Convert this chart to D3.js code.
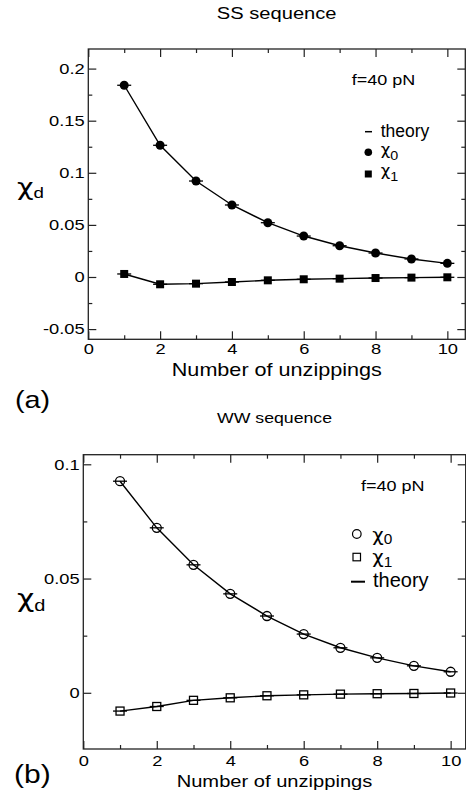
<!DOCTYPE html>
<html>
<head>
<meta charset="utf-8">
<script src="https://cdn.jsdelivr.net/npm/d3@7"></script>
<style>
  body { margin: 0; background: #fff; }
  svg { display: block; font-family: "Liberation Sans", Arial, Helvetica, sans-serif; }
</style>
</head>
<body>
<svg id="chart" width="466" height="795"></svg>
<script>
// values
const unzippings = [1, 2, 3, 4, 5, 6, 7, 8, 9, 10];
const ssChi0 = [0.184, 0.1264, 0.0921, 0.0691, 0.0521, 0.0393, 0.0300, 0.0230, 0.0173, 0.0131];
const ssChi1 = [0.0029, -0.0070, -0.0064, -0.0048, -0.0032, -0.0022, -0.0016, -0.0010, -0.0006, -0.0003];
const wwChi0 = [0.0926, 0.0722, 0.0560, 0.0433, 0.0336, 0.0257, 0.0197, 0.0153, 0.0118, 0.0092];
const wwChi1 = [-0.0080, -0.0060, -0.0033, -0.0022, -0.0013, -0.0009, -0.0006, -0.0004, -0.0003, -0.0001];

const xTicks = [0, 2, 4, 6, 8, 10];
const xMinor = [1, 3, 5, 7, 9];
const ssYTicks = [-0.05, 0, 0.05, 0.1, 0.15, 0.2];
const ssYLabels = ["-0.05", "0", "0.05", "0.1", "0.15", "0.2"];
const ssYMinor = [-0.025, 0.025, 0.075, 0.125, 0.175];
const wwYTicks = [0, 0.05, 0.1];
const wwYLabels = ["0", "0.05", "0.1"];
const wwYMinor = [0.025, 0.075];

const svg = d3.select("#chart");
svg.append("rect").attr("width", 466).attr("height", 795).attr("fill", "#fff");

// stretched text, the original type is wider than Arial
function label(g, x, y, s, size, sx, anchor) {
    return g.append("text")
        .attr("transform", `translate(${x},${y}) scale(${sx},1)`)
        .attr("font-size", size)
        .attr("text-anchor", anchor || "start")
        .attr("fill", "#000")
        .text(s);
}

function chiLabel(g, x, y, sub, size, subSize, sx, dy) {
    const t = g.append("text")
        .attr("transform", `translate(${x},${y}) scale(${sx},1)`)
        .attr("font-size", size)
        .attr("fill", "#000");
    t.append("tspan").attr("font-family", "DejaVu Sans, sans-serif").text("χ");
    t.append("tspan").attr("font-size", subSize).attr("dy", dy).text(sub);
    return t;
}

function drawPanel(p) {
    const x = d3.scaleLinear().domain([0, p.xMax]).range([p.left, p.right]);
    const y = d3.scaleLinear().domain(p.yDomain).range([p.bottom, p.top]);
    const g = svg.append("g");

    const tickFont = 15, tickSx = 1.22;

    // major and minor ticks on all four sides, pointing inward
    const axes = [
        [d3.axisBottom(x).tickValues(xTicks).tickFormat(d => d), `translate(0,${p.bottom})`, true, -8],
        [d3.axisBottom(x).tickValues(xMinor).tickFormat(""), `translate(0,${p.bottom})`, false, -4],
        [d3.axisTop(x).tickValues(xTicks).tickFormat(""), `translate(0,${p.top})`, false, -8],
        [d3.axisTop(x).tickValues(xMinor).tickFormat(""), `translate(0,${p.top})`, false, -4],
        [d3.axisLeft(y).tickValues(p.yTicks).tickFormat((d, i) => p.yLabels[i]), `translate(${p.left},0)`, true, -8],
        [d3.axisLeft(y).tickValues(p.yMinor).tickFormat(""), `translate(${p.left},0)`, false, -4],
        [d3.axisRight(y).tickValues(p.yTicks).tickFormat(""), `translate(${p.right},0)`, false, -8],
        [d3.axisRight(y).tickValues(p.yMinor).tickFormat(""), `translate(${p.right},0)`, false, -4]
    ];
    axes.forEach(([ax, tr, labelled, size], i) => {
        ax.tickSizeInner(size).tickSizeOuter(0).tickPadding(i === 0 ? p.xPad : 3);
        const a = g.append("g").attr("transform", tr).call(ax);
        a.select(".domain").remove();
        a.selectAll("line").attr("stroke", "#222").attr("stroke-width", 1.2);
        a.selectAll("text")
            .attr("font-size", tickFont)
            .attr("font-family", "Liberation Sans, Arial, sans-serif")
            .attr("fill", "#000");
        if (labelled) a.selectAll("text").attr("transform", `scale(${tickSx},1)`);
    });

    g.append("rect")
        .attr("x", p.left).attr("y", p.top)
        .attr("width", p.right - p.left).attr("height", p.bottom - p.top)
        .attr("fill", "none").attr("stroke", "#222").attr("stroke-width", 1.3);

    const line = d3.line().x((d, i) => x(unzippings[i])).y(d => y(d));

    p.series.forEach(s => {
        g.append("path").datum(s.values)
            .attr("d", line)
            .attr("fill", "none").attr("stroke", "#000").attr("stroke-width", 1.4);

        // theory dashes
        g.append("g").selectAll("line").data(s.values).join("line")
            .attr("x1", (d, i) => x(unzippings[i]) - 7)
            .attr("x2", (d, i) => x(unzippings[i]) + 7)
            .attr("y1", d => y(d)).attr("y2", d => y(d))
            .attr("stroke", "#000").attr("stroke-width", 1.3);

        const m = g.append("g").selectAll(s.shape === "circle" ? "circle" : "rect")
            .data(s.values).join(s.shape === "circle" ? "circle" : "rect");
        if (s.shape === "circle") {
            m.attr("cx", (d, i) => x(unzippings[i])).attr("cy", d => y(d)).attr("r", 4.5);
        } else {
            m.attr("x", (d, i) => x(unzippings[i]) - 4).attr("y", d => y(d) - 4)
                .attr("width", 8).attr("height", 8);
        }
        if (p.filled) m.attr("fill", "#000");
        else m.attr("fill", "none").attr("stroke", "#000").attr("stroke-width", 1.3);
    });
    return g;
}

// panel (a)
drawPanel({
    left: 88.3, right: 465.3, top: 49, bottom: 339.3,
    xMax: 10.5, yDomain: [-0.0598, 0.2188], xPad: 4,
    yTicks: ssYTicks, yLabels: ssYLabels, yMinor: ssYMinor,
    filled: true,
    series: [
        { values: ssChi0, shape: "circle" },
        { values: ssChi1, shape: "square" }
    ]
});
label(svg, 276.7, 19, "SS sequence", 16.5, 1.22, "middle");
label(svg, 276.8, 375.7, "Number of unzippings", 18, 1.2, "middle");
chiLabel(svg, 17, 195, "d", 23, 15, 1.25, 3);
label(svg, 351.7, 85, "f=40 pN", 15, 1.2);
label(svg, 15, 408, "(a)", 24, 1.2);

// legend (a)
svg.append("line").attr("x1", 365).attr("x2", 372).attr("y1", 131.7).attr("y2", 131.7)
    .attr("stroke", "#000").attr("stroke-width", 1.5);
label(svg, 380.7, 136.7, "theory", 17.5, 1.0);
svg.append("circle").attr("cx", 368.3).attr("cy", 152.3).attr("r", 3.8).attr("fill", "#000");
chiLabel(svg, 380.7, 154.5, "0", 15, 13, 1.1, 5);
svg.append("rect").attr("x", 364.8).attr("y", 170.5).attr("width", 7).attr("height", 7).attr("fill", "#000");
chiLabel(svg, 380.7, 176, "1", 15, 13, 1.1, 5);

// panel (b)
drawPanel({
    left: 83.3, right: 465.7, top: 454.7, bottom: 749,
    xMax: 10.41, yDomain: [-0.0246, 0.1042], xPad: 6,
    yTicks: wwYTicks, yLabels: wwYLabels, yMinor: wwYMinor,
    filled: false,
    series: [
        { values: wwChi0, shape: "circle" },
        { values: wwChi1, shape: "square" }
    ]
});
label(svg, 274.5, 423, "WW sequence", 15, 1.18, "middle");
label(svg, 274.5, 786.7, "Number of unzippings", 16.5, 1.22, "middle");
chiLabel(svg, 17, 607, "d", 24, 16, 1.25, 4);
label(svg, 361, 490.7, "f=40 pN", 15, 1.2);
label(svg, 14, 783, "(b)", 25, 1.2);

// legend (b)
svg.append("circle").attr("cx", 356.8).attr("cy", 534).attr("r", 4.3)
    .attr("fill", "none").attr("stroke", "#000").attr("stroke-width", 1.2);
chiLabel(svg, 372.3, 541, "0", 18, 14, 1.1, 3);
svg.append("rect").attr("x", 353).attr("y", 553.3).attr("width", 7.5).attr("height", 7.5)
    .attr("fill", "none").attr("stroke", "#000").attr("stroke-width", 1.2);
chiLabel(svg, 372.3, 563, "1", 18, 14, 1.1, 3.7);
svg.append("line").attr("x1", 351).attr("x2", 365).attr("y1", 581.7).attr("y2", 581.7)
    .attr("stroke", "#000").attr("stroke-width", 2);
label(svg, 373, 586.7, "theory", 20, 1.0);
</script>
</body>
</html>
